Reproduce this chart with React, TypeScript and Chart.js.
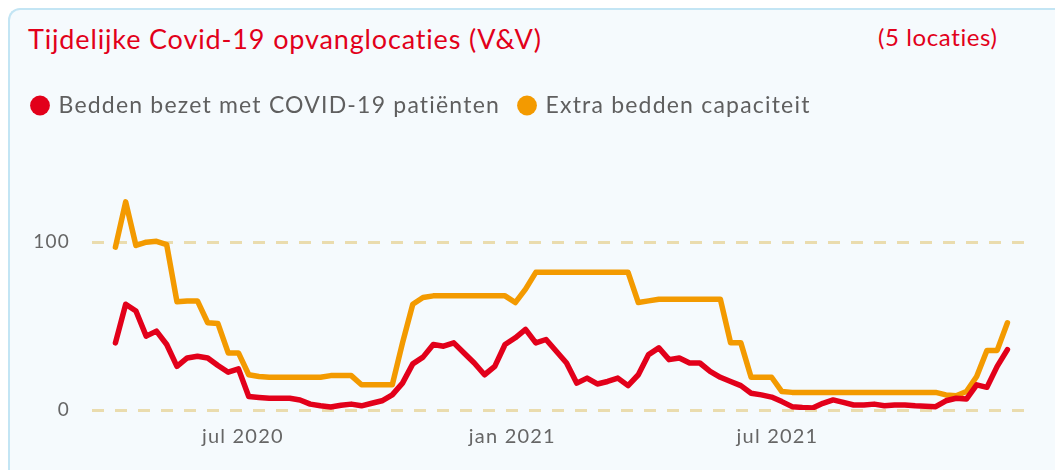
import React, { useEffect, useRef } from "react";
import { Chart, registerables } from "chart.js";

Chart.register(...registerables);

const dates = [
  "2020-04-05", "2020-04-12", "2020-04-19", "2020-04-26",
  "2020-05-03", "2020-05-10", "2020-05-17", "2020-05-24", "2020-05-31",
  "2020-06-07", "2020-06-14", "2020-06-21", "2020-06-28",
  "2020-07-05", "2020-07-12", "2020-07-19", "2020-07-26",
  "2020-08-02", "2020-08-09", "2020-08-16", "2020-08-23", "2020-08-30",
  "2020-09-06", "2020-09-13", "2020-09-20", "2020-09-27",
  "2020-10-04", "2020-10-11", "2020-10-18", "2020-10-25",
  "2020-11-01", "2020-11-08", "2020-11-15", "2020-11-22", "2020-11-29",
  "2020-12-06", "2020-12-13", "2020-12-20", "2020-12-27",
  "2021-01-03", "2021-01-10", "2021-01-17", "2021-01-24", "2021-01-31",
  "2021-02-07", "2021-02-14", "2021-02-21", "2021-02-28",
  "2021-03-07", "2021-03-14", "2021-03-21", "2021-03-28",
  "2021-04-04", "2021-04-11", "2021-04-18", "2021-04-25",
  "2021-05-02", "2021-05-09", "2021-05-16", "2021-05-23", "2021-05-30",
  "2021-06-06", "2021-06-13", "2021-06-20", "2021-06-27",
  "2021-07-04", "2021-07-11", "2021-07-18", "2021-07-25",
  "2021-08-01", "2021-08-08", "2021-08-15", "2021-08-22", "2021-08-29",
  "2021-09-05", "2021-09-12", "2021-09-19", "2021-09-26",
  "2021-10-03", "2021-10-10", "2021-10-17", "2021-10-24", "2021-10-31",
  "2021-11-07", "2021-11-14", "2021-11-21", "2021-11-28",
  "2021-12-05",
];

const beddenBezet = [
  40, 63, 59, 44, 47, 39, 26, 31, 32, 31,
  26.5, 22.5, 24.5, 8, 7.5, 7, 7, 7, 6, 3.5,
  2.5, 1.8, 2.8, 3.5, 2.5, 4, 5.5, 9, 16, 27.5,
  31.5, 39, 38, 40, 34, 28, 21, 26, 39, 43,
  48, 40, 42, 35, 28, 16, 19, 15.5, 17, 19,
  14.5, 21, 33, 37, 30, 31, 28, 28, 23, 19.5,
  17, 14.5, 10, 9, 7.7, 5, 2, 1.5, 1.2, 4,
  6, 4.5, 3, 3, 3.5, 2.5, 3, 3, 2.5, 2.2,
  2, 5.5, 7, 6.5, 15, 13.5, 26, 36,
];

const extraCapaciteit = [
  97, 124, 98, 100, 100.5, 98.5, 64.5, 65, 65, 52,
  51.5, 34, 34, 21, 20, 19.5, 19.5, 19.5, 19.5, 19.5,
  19.5, 20.5, 20.5, 20.5, 15, 15, 15, 15, 40, 63,
  67, 68, 68, 68, 68, 68, 68, 68, 68, 64,
  72, 82, 82, 82, 82, 82, 82, 82, 82, 82,
  82, 64, 65, 66, 66, 66, 66, 66, 66, 66,
  40, 40, 19.5, 19.5, 19.5, 11, 10.5, 10.5, 10.5, 10.5,
  10.5, 10.5, 10.5, 10.5, 10.5, 10.5, 10.5, 10.5, 10.5, 10.5,
  10.5, 9, 8.5, 11, 20, 35.5, 35.5, 52,
];

const seriesLabels = ["Bedden bezet met COVID-19 patiënten", "Extra bedden capaciteit"];
const tickDates = ["2020-07-01", "2021-01-01", "2021-07-01"];
const tickLabels = ["jul 2020", "jan 2021", "jul 2021"];
const yTicks = [0, 100];
const axisRange = ["2020-03-20", "2021-12-17"];

const DAY = 86400000;
const toDay = (s: string) => Date.parse(s) / DAY;

const RED = "#e2001a";
const ORANGE = "#f39a00";
const FONT = "Lato, 'Noto Sans', sans-serif";

export default function App() {
  const ref = useRef<HTMLCanvasElement | null>(null);

  useEffect(() => {
    if (!ref.current) return;
    const setSpacing = (chart: any) => {
      try {
        chart.ctx.letterSpacing = "1.2px";
      } catch (e) {}
    };
    const legendSpace = {
      id: "legendSpace",
      beforeInit(chart: any) {
        const orig = chart.legend.fit;
        chart.legend.fit = function () {
          orig.call(this);
          this.height = 101;
        };
      },
      beforeLayout(chart: any) {
        setSpacing(chart);
      },
      beforeDraw(chart: any) {
        setSpacing(chart);
      },
    };
    const chart = new Chart(ref.current, {
      type: "line",
      data: {
        datasets: [
          {
            label: seriesLabels[0],
            data: dates.map((d, i) => ({ x: toDay(d), y: beddenBezet[i] })),
            borderColor: RED,
            backgroundColor: RED,
            borderWidth: 5.5,
            pointRadius: 0,
            tension: 0,
            borderJoinStyle: "round",
            borderCapStyle: "round",
          },
          {
            label: seriesLabels[1],
            data: dates.map((d, i) => ({ x: toDay(d), y: extraCapaciteit[i] })),
            borderColor: ORANGE,
            backgroundColor: ORANGE,
            borderWidth: 5.5,
            pointRadius: 0,
            tension: 0,
            borderJoinStyle: "round",
            borderCapStyle: "round",
          },
        ],
      },
      options: {
        responsive: false,
        animation: false,
        layout: { padding: { left: 5, right: 30, top: 14, bottom: 0 } },
        plugins: {
          tooltip: { enabled: false },
          legend: {
            display: true,
            position: "top",
            align: "start",
            labels: {
              usePointStyle: true,
              pointStyle: "circle",
              boxWidth: 14,
              boxHeight: 14,
              padding: 20,
              color: "#5f5f5f",
              font: { family: FONT, size: 23 },
              generateLabels(chart: any) {
                const items = Chart.defaults.plugins.legend.labels.generateLabels(chart);
                return items.map((it: any) => ({ ...it, lineWidth: 0, fillStyle: it.strokeStyle }));
              },
            },
          },
        },
        scales: {
          x: {
            type: "linear",
            min: toDay(axisRange[0]),
            max: toDay(axisRange[1]),
            grid: { display: false, drawTicks: false },
            border: { display: false },
            afterFit(scale: any) {
              scale.height = 60;
            },
            afterBuildTicks(scale: any) {
              scale.ticks = tickDates.map((d) => ({ value: toDay(d) }));
            },
            ticks: {
              padding: 15,
              color: "#666",
              font: { family: FONT, size: 20 },
              maxRotation: 0,
              autoSkip: false,
              callback(value: any) {
                const idx = tickDates.findIndex((d) => Math.abs(toDay(d) - value) < 0.5);
                return idx >= 0 ? tickLabels[idx] : "";
              },
            },
          },
          y: {
            min: 0,
            max: 140,
            grid: { color: "#eadcae", lineWidth: 3, drawTicks: false },
            border: { display: false, dash: [12, 11] },
            afterFit(scale: any) {
              scale.width = 79;
            },
            afterBuildTicks(scale: any) {
              scale.ticks = yTicks.map((v) => ({ value: v }));
            },
            ticks: {
              padding: 22,
              color: "#666",
              font: { family: FONT, size: 19 },
            },
          },
        },
      },
      plugins: [legendSpace],
    } as any);
    return () => chart.destroy();
  }, []);

  return (
    <div style={{ position: "absolute", left: 0, top: 0, width: 1055, height: 470, overflow: "hidden", background: "#ffffff" }}>
      <div
        style={{
          position: "absolute",
          left: 8,
          top: 8,
          width: 1060,
          height: 470,
          boxSizing: "border-box",
          borderTop: "2px solid #c3e5f4",
          borderLeft: "2px solid #c3e5f4",
          borderTopLeftRadius: 12,
          background: "#f5fafd",
        }}
      />
      <div
        style={{
          position: "absolute",
          left: 28,
          top: 22,
          fontFamily: FONT,
          fontSize: 27,
          letterSpacing: "0.85px",
          lineHeight: "34px",
          color: RED,
          whiteSpace: "nowrap",
        }}
      >
        Tijdelijke Covid-19 opvanglocaties (V&amp;V)
      </div>
      <div
        style={{
          position: "absolute",
          left: 878,
          top: 20,
          fontFamily: FONT,
          fontSize: 24,
          letterSpacing: "0.6px",
          lineHeight: "34px",
          color: RED,
          whiteSpace: "nowrap",
        }}
      >
        (5 locaties)
      </div>
      <canvas ref={ref} width={1047} height={410} style={{ position: "absolute", left: 8, top: 60 }} />
    </div>
  );
}
